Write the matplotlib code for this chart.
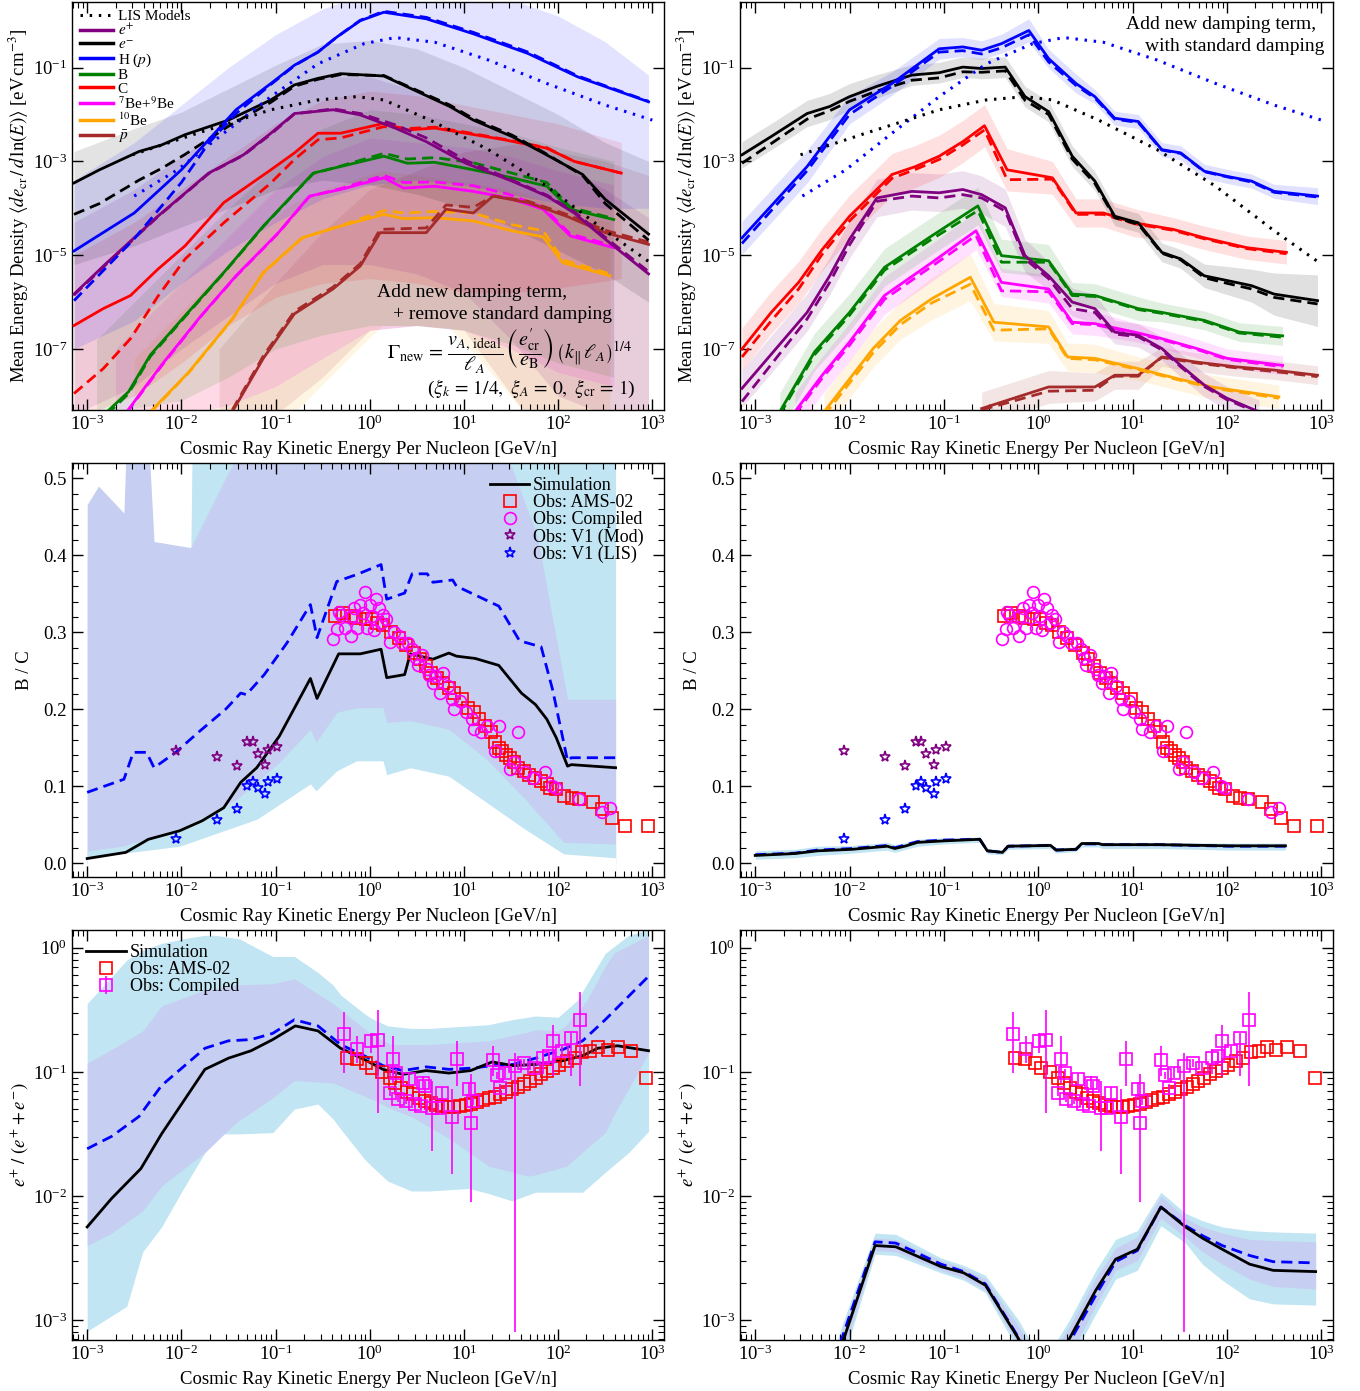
import numpy as np
import matplotlib
matplotlib.use("Agg")
import matplotlib.pyplot as plt
from matplotlib.lines import Line2D
from matplotlib.ticker import LogLocator, FixedLocator, NullLocator, MultipleLocator, NullFormatter

plt.rcParams['font.family'] = ['Liberation Serif', 'DejaVu Serif']
plt.rcParams['mathtext.fontset'] = 'stix'

# --- Data: x values are log10(E / GeV/n); values on log axes are log10 too ---

# Top-left: new damping, standard damping removed
TL_H_X = [-3.14, -2.50, -2.00, -1.71, -1.42, -1.05, -0.80, -0.55, -0.35, -0.10, 0.15, 0.60, 1.10, 1.68, 2.21, 2.96]
TL_H_Y = [-4.91, -4.10, -3.18, -2.54, -1.90, -1.34, -0.95, -0.67, -0.35, 0.00, 0.18, 0.04, -0.28, -0.70, -1.20, -1.73]
TL_H_D = [-5.97, -4.65, -3.45, -2.61, -1.98, -1.36, -0.96, -0.67, -0.35, 0.01, 0.20, 0.07, -0.25, -0.67, -1.18, -1.72]

TL_E_X = [-3.14, -2.87, -2.45, -2.21, -1.96, -1.50, -1.05, -0.80, -0.55, -0.31, 0.15, 0.44, 0.85, 1.10, 1.51, 1.84, 2.26, 2.50, 2.96]
TL_E_Y = [-3.46, -3.18, -2.79, -2.65, -2.43, -2.12, -1.69, -1.37, -1.23, -1.13, -1.18, -1.45, -1.83, -2.12, -2.47, -2.82, -3.28, -3.81, -4.55]
TL_E_D = [-4.13, -3.90, -3.40, -3.15, -2.85, -2.25, -1.74, -1.40, -1.25, -1.15, -1.17, -1.43, -1.80, -2.09, -2.44, -2.80, -3.30, -3.90, -4.68]

TL_P_X = [-3.14, -2.79, -2.25, -1.71, -1.34, -1.05, -0.80, -0.39, -0.10, 0.27, 0.60, 1.02, 1.51, 1.88, 2.17, 2.50, 2.96]
TL_P_Y = [-5.83, -5.16, -4.17, -3.25, -2.86, -2.40, -1.98, -1.90, -2.01, -2.29, -2.58, -3.04, -3.42, -3.74, -4.10, -4.66, -5.40]
TL_P_D = [-5.85, -5.18, -4.18, -3.26, -2.87, -2.42, -1.99, -1.88, -1.98, -2.22, -2.50, -2.98, -3.40, -3.72, -4.07, -4.62, -5.35]

TL_C_X = [-3.14, -2.83, -2.54, -2.25, -1.96, -1.55, -1.05, -0.80, -0.55, -0.31, 0.15, 0.40, 0.69, 1.02, 1.43, 1.88, 2.17, 2.67]
TL_C_Y = [-6.50, -6.14, -5.86, -5.30, -4.80, -3.88, -3.18, -2.82, -2.40, -2.40, -2.19, -2.33, -2.29, -2.40, -2.54, -2.72, -3.00, -3.25]
TL_C_D = [-7.95, -7.42, -6.78, -5.88, -5.08, -4.31, -3.46, -2.96, -2.54, -2.50, -2.26, -2.30, -2.27, -2.38, -2.53, -2.71, -3.00, -3.25]

TL_B_X = [-2.79, -2.56, -2.33, -1.96, -1.55, -1.13, -0.60, -0.31, 0.15, 0.40, 0.69, 1.10, 1.51, 1.88, 2.13, 2.59]
TL_B_Y = [-8.34, -7.91, -7.13, -6.29, -5.37, -4.38, -3.25, -3.11, -2.89, -3.04, -3.02, -3.18, -3.35, -3.53, -4.02, -4.24]
TL_B_D = [-8.40, -7.95, -7.16, -6.31, -5.38, -4.39, -3.26, -3.10, -2.83, -2.95, -2.92, -3.03, -3.25, -3.45, -3.98, -4.22]

TL_BE_X = [-2.58, -2.21, -1.79, -1.42, -0.97, -0.64, -0.31, 0.15, 0.36, 0.69, 1.10, 1.47, 1.84, 2.13, 2.59]
TL_BE_Y = [-8.34, -7.34, -6.29, -5.44, -4.52, -3.74, -3.60, -3.35, -3.57, -3.53, -3.64, -3.78, -4.02, -4.59, -4.84]
TL_BE_D = [-8.36, -7.36, -6.30, -5.45, -4.53, -3.75, -3.58, -3.30, -3.45, -3.44, -3.52, -3.70, -3.98, -4.55, -4.80]

TL_B10_X = [-2.33, -1.92, -1.46, -1.13, -0.72, -0.31, 0.15, 0.36, 0.69, 1.10, 1.51, 1.84, 2.05, 2.55]
TL_B10_Y = [-8.34, -7.49, -6.36, -5.37, -4.63, -4.38, -4.13, -4.22, -4.20, -4.27, -4.48, -4.61, -5.16, -5.44]
TL_B10_D = [-8.36, -7.50, -6.37, -5.38, -4.64, -4.37, -4.05, -4.10, -4.07, -4.10, -4.35, -4.48, -5.10, -5.40]

TL_PB_X = [-1.46, -1.13, -0.80, -0.39, -0.10, 0.11, 0.60, 0.81, 1.10, 1.31, 1.68, 2.09, 2.50, 2.96]
TL_PB_Y = [-8.34, -7.20, -6.25, -5.72, -5.23, -4.52, -4.52, -4.02, -4.10, -3.74, -3.88, -4.17, -4.52, -4.77]
TL_PB_D = [-8.30, -7.15, -6.20, -5.68, -5.18, -4.45, -4.42, -3.93, -3.98, -3.74, -3.85, -4.13, -4.47, -4.72]

# LIS models (same in both top panels)
LIS_P_X = [-2.50, -2.04, -1.55, -1.05, -0.55, -0.06, 0.27, 0.69, 1.26, 1.88, 2.50, 3.00]
LIS_P_Y = [-3.74, -3.18, -2.40, -1.62, -0.92, -0.49, -0.36, -0.46, -0.84, -1.34, -1.80, -2.12]
LIS_E_X = [-2.52, -1.83, -1.50, -1.05, -0.55, -0.14, 0.15, 0.64, 1.26, 1.88, 2.50, 3.00]
LIS_E_Y = [-2.86, -2.40, -2.19, -1.90, -1.69, -1.62, -1.69, -2.12, -2.75, -3.53, -4.48, -5.19]

# Top-left bands (log10 lower / upper)
TLB_X = [-3.14, -2.5, -2.0, -1.5, -1.0, -0.5, 0.0, 0.5, 1.0, 1.5, 2.0, 2.5, 2.96]
TLB_H_HI = [-3.4, -2.6, -1.8, -1.0, -0.3, 0.25, 0.6, 0.6, 0.55, 0.45, 0.1, -0.45, -1.16]
TLB_H_LO = [-7.0, -6.4, -5.6, -4.9, -4.3, -3.8, -3.5, -3.4, -3.5, -3.7, -3.9, -4.0, -4.0]
TLB_E_HI = [-2.79, -2.3, -1.95, -1.45, -0.95, -0.5, -0.42, -0.6, -1.0, -1.5, -2.0, -2.6, -3.0]
TLB_E_LO = [-5.2, -4.8, -4.4, -4.0, -3.6, -3.4, -3.5, -3.7, -4.0, -4.4, -4.9, -5.4, -6.0]
TLB_P_HI = [-4.3, -3.6, -2.9, -2.2, -1.6, -1.2, -1.2, -1.5, -2.0, -2.5, -3.0, -3.6, -4.2]
TLB_P_LO = [-8.4, -7.8, -7.0, -6.3, -5.6, -5.2, -5.2, -5.4, -5.8, -6.8, -8.0, -8.4, -8.4]
TLB_C_X = [-3.14, -2.5, -2.0, -1.5, -1.0, -0.5, 0.0, 0.5, 1.0, 1.5, 2.0, 2.67]
TLB_C_HI = [-5.0, -4.3, -3.6, -2.9, -2.2, -1.7, -1.5, -1.6, -1.8, -2.0, -2.2, -2.6]
TLB_C_LO = [-8.5, -8.0, -7.3, -6.5, -5.9, -5.6, -5.5, -5.6, -5.8, -5.8, -5.7, -5.5]
TLB_B_X = [-2.9, -2.0, -1.5, -1.0, -0.5, 0.0, 0.5, 1.0, 1.5, 2.0, 2.59]
TLB_B_HI = [-6.8, -5.0, -4.0, -3.1, -2.3, -1.9, -2.0, -2.2, -2.4, -2.7, -3.0]
TLB_B_LO = [-8.4, -8.1, -7.6, -7.0, -6.7, -6.5, -6.5, -6.6, -6.9, -7.3, -7.6]
TLB_BE_X = [-2.7, -2.0, -1.5, -1.0, -0.5, 0.0, 0.5, 1.0, 1.5, 2.0, 2.59]
TLB_BE_HI = [-7.0, -5.6, -4.6, -3.6, -2.9, -2.5, -2.6, -2.7, -2.9, -3.2, -3.5]
TLB_BE_LO = [-8.4, -8.4, -8.2, -7.8, -7.2, -6.6, -6.5, -6.6, -7.0, -7.5, -7.8]
TLB_B10_X = [-2.5, -2.0, -1.5, -1.0, -0.82, -0.5, 0.13, 0.5, 0.85, 1.2, 1.66, 2.0, 2.55]
TLB_B10_HI = [-7.2, -6.2, -5.2, -4.2, -3.9, -3.6, -3.2, -3.3, -3.4, -3.5, -3.7, -4.0, -4.3]
TLB_B10_LO = [-8.4, -8.4, -8.4, -8.4, -8.4, -7.75, -6.5, -6.5, -6.55, -7.3, -8.4, -8.4, -8.4]
TLB_PB_X = [-1.6, -1.0, -0.5, 0.0, 0.5, 1.0, 1.66, 2.0, 2.5, 2.96]
TLB_PB_HI = [-7.0, -5.6, -4.5, -3.6, -3.2, -2.8, -2.6, -2.8, -3.0, -3.3]
TLB_PB_LO = [-8.4, -8.4, -7.6, -6.6, -6.5, -6.6, -8.4, -8.4, -8.4, -8.4]

# Top-right: new damping, with standard damping (half-widths of bands in decades)
TR_H_X = [-3.14, -2.83, -2.45, -2.00, -1.55, -1.05, -0.80, -0.60, -0.39, -0.10, 0.11, 0.40, 0.60, 0.81, 1.06, 1.31, 1.51, 1.76, 2.00, 2.26, 2.50, 2.96]
TR_H_Y = [-4.63, -3.95, -3.11, -1.90, -1.34, -0.60, -0.56, -0.63, -0.49, -0.21, -0.81, -1.34, -1.62, -2.08, -2.15, -2.75, -2.82, -3.21, -3.32, -3.42, -3.64, -3.74]
TR_H_D = [-4.75, -4.05, -3.20, -2.00, -1.40, -0.67, -0.64, -0.71, -0.58, -0.30, -0.88, -1.38, -1.65, -2.10, -2.17, -2.76, -2.83, -3.22, -3.33, -3.44, -3.66, -3.76]
TR_H_W = [0.35, 0.35, 0.35, 0.30, 0.25, 0.22, 0.2, 0.2, 0.2, 0.25, 0.2, 0.2, 0.15, 0.15, 0.15, 0.15, 0.15, 0.15, 0.15, 0.15, 0.15, 0.18]

TR_E_X = [-3.14, -2.83, -2.45, -2.21, -2.00, -1.71, -1.34, -1.05, -0.80, -0.60, -0.35, -0.14, 0.11, 0.36, 0.60, 0.81, 1.06, 1.31, 1.51, 1.76, 2.00, 2.26, 2.50, 2.96]
TR_E_Y = [-2.86, -2.47, -1.98, -1.83, -1.62, -1.40, -1.16, -1.11, -0.99, -1.02, -0.99, -1.62, -1.94, -2.89, -3.42, -4.17, -4.31, -4.94, -5.08, -5.44, -5.54, -5.65, -5.83, -5.97]
TR_E_D = [-3.04, -2.62, -2.10, -1.92, -1.72, -1.50, -1.27, -1.22, -1.09, -1.10, -1.07, -1.70, -2.00, -2.95, -3.47, -4.20, -4.34, -4.96, -5.10, -5.48, -5.60, -5.72, -5.90, -6.04]
TR_E_W = [0.28, 0.28, 0.28, 0.28, 0.28, 0.25, 0.22, 0.22, 0.22, 0.22, 0.22, 0.22, 0.22, 0.22, 0.2, 0.2, 0.2, 0.2, 0.2, 0.25, 0.3, 0.35, 0.45, 0.55]

TR_C_X = [-3.14, -2.83, -2.54, -2.29, -2.00, -1.55, -1.30, -1.05, -0.80, -0.57, -0.33, 0.15, 0.40, 0.69, 1.02, 1.43, 1.76, 2.21, 2.63]
TR_C_Y = [-7.00, -6.22, -5.58, -4.88, -4.17, -3.28, -3.11, -2.89, -2.58, -2.24, -3.18, -3.35, -4.10, -4.10, -4.31, -4.45, -4.63, -4.84, -4.94]
TR_C_D = [-7.17, -6.40, -5.72, -4.98, -4.27, -3.36, -3.17, -2.96, -2.65, -2.33, -3.39, -3.38, -4.13, -4.13, -4.33, -4.47, -4.65, -4.86, -4.97]
TR_C_W = [0.45, 0.45, 0.45, 0.45, 0.45, 0.45, 0.45, 0.45, 0.45, 0.45, 0.45, 0.35, 0.3, 0.3, 0.3, 0.25, 0.25, 0.25, 0.25]

TR_P_X = [-3.14, -2.45, -2.21, -2.00, -1.71, -1.34, -1.05, -0.80, -0.60, -0.35, -0.14, 0.11, 0.36, 0.60, 0.81, 1.06, 1.31, 1.51, 1.76, 2.00, 2.34]
TR_P_Y = [-7.84, -6.22, -5.44, -4.66, -3.78, -3.64, -3.67, -3.60, -3.71, -3.99, -5.01, -5.44, -6.00, -6.14, -6.64, -6.71, -6.99, -7.35, -7.77, -8.05, -8.34]
TR_P_D = [-8.12, -6.36, -5.58, -4.78, -3.85, -3.74, -3.78, -3.71, -3.78, -4.06, -5.08, -5.50, -6.14, -6.22, -6.68, -6.74, -7.02, -7.38, -7.80, -8.08, -8.37]
TR_P_W = [0.4, 0.4, 0.4, 0.4, 0.4, 0.4, 0.4, 0.4, 0.4, 0.4, 0.35, 0.3, 0.3, 0.3, 0.25, 0.25, 0.25, 0.25, 0.25, 0.25, 0.25]

TR_B_X = [-2.74, -2.37, -2.00, -1.63, -1.13, -0.64, -0.39, 0.11, 0.36, 0.60, 1.06, 1.31, 1.76, 2.13, 2.59]
TR_B_Y = [-8.34, -7.06, -6.22, -5.26, -4.59, -3.95, -5.01, -5.12, -5.83, -5.86, -6.14, -6.22, -6.39, -6.64, -6.72]
TR_B_D = [-8.40, -7.12, -6.28, -5.32, -4.66, -4.05, -5.15, -5.15, -5.86, -5.88, -6.16, -6.24, -6.41, -6.66, -6.75]
TR_B_W = [0.4, 0.4, 0.4, 0.4, 0.4, 0.4, 0.35, 0.35, 0.25, 0.25, 0.25, 0.2, 0.2, 0.2, 0.2]

TR_BE_X = [-2.58, -2.29, -2.00, -1.63, -1.13, -0.66, -0.39, 0.11, 0.36, 0.60, 1.02, 1.31, 1.68, 2.00, 2.59]
TR_BE_Y = [-8.34, -7.56, -6.85, -5.86, -5.16, -4.48, -5.58, -5.72, -6.43, -6.46, -6.64, -6.78, -6.99, -7.20, -7.35]
TR_BE_D = [-8.40, -7.62, -6.92, -5.94, -5.24, -4.58, -5.76, -5.78, -6.46, -6.48, -6.66, -6.80, -7.01, -7.22, -7.38]
TR_BE_W = [0.4, 0.4, 0.4, 0.4, 0.4, 0.4, 0.3, 0.3, 0.25, 0.25, 0.2, 0.2, 0.2, 0.2, 0.2]

TR_B10_X = [-2.27, -1.75, -1.46, -1.13, -0.72, -0.47, 0.11, 0.31, 0.60, 1.06, 1.47, 1.84, 2.55]
TR_B10_Y = [-8.34, -6.99, -6.39, -5.93, -5.47, -6.43, -6.53, -7.17, -7.20, -7.42, -7.63, -7.81, -8.02]
TR_B10_D = [-8.42, -7.08, -6.48, -6.02, -5.62, -6.60, -6.57, -7.20, -7.23, -7.44, -7.65, -7.83, -8.05]
TR_B10_W = [0.4, 0.4, 0.4, 0.45, 0.5, 0.4, 0.35, 0.3, 0.3, 0.25, 0.25, 0.25, 0.25]

TR_PB_X = [-0.60, 0.11, 0.60, 0.81, 1.06, 1.31, 1.68, 2.09, 2.50, 2.96]
TR_PB_Y = [-8.27, -7.81, -7.81, -7.56, -7.56, -7.17, -7.28, -7.38, -7.45, -7.56]
TR_PB_D = [-8.30, -7.90, -7.88, -7.58, -7.58, -7.18, -7.30, -7.40, -7.48, -7.59]
TR_PB_W = [0.35, 0.35, 0.3, 0.3, 0.3, 0.2, 0.2, 0.2, 0.2, 0.2]

# Middle: B/C ratio
ML_X = [-3.00, -2.59, -2.35, -2.02, -1.78, -1.55, -1.37, -1.20, -0.96, -0.63, -0.56, -0.33, -0.10, 0.12, 0.18, 0.37, 0.43, 0.67, 0.84, 0.92, 1.12, 1.37, 1.61, 1.76, 1.88, 1.98, 2.10, 2.14, 2.61]
ML_SIM = [0.006, 0.014, 0.031, 0.042, 0.055, 0.072, 0.105, 0.124, 0.165, 0.240, 0.214, 0.272, 0.272, 0.278, 0.241, 0.245, 0.272, 0.265, 0.273, 0.269, 0.266, 0.257, 0.221, 0.206, 0.187, 0.163, 0.126, 0.128, 0.124]
ML_DX = [-3.00, -2.61, -2.51, -2.37, -2.29, -2.06, -1.82, -1.53, -1.37, -1.31, -1.12, -0.88, -0.63, -0.56, -0.35, -0.14, 0.12, 0.18, 0.37, 0.45, 0.61, 0.67, 0.88, 0.92, 1.37, 1.59, 1.82, 1.94, 2.10, 2.14, 2.61]
ML_DASH = [0.092, 0.109, 0.144, 0.144, 0.124, 0.144, 0.170, 0.200, 0.221, 0.219, 0.245, 0.286, 0.336, 0.293, 0.366, 0.375, 0.388, 0.343, 0.351, 0.376, 0.376, 0.365, 0.368, 0.360, 0.334, 0.289, 0.281, 0.226, 0.133, 0.137, 0.137]
ML_CY_X = [-3.00, -1.90, -1.88, 2.61]
ML_CY_HI = [0.40, 0.40, 0.60, 0.60]
ML_CY_LX = [-3.00, -2.02, -1.20, -0.63, -0.57, -0.35, -0.14, 0.14, 0.18, 0.43, 0.84, 1.24, 1.65, 2.06, 2.61]
ML_CY_LO = [0.007, 0.022, 0.057, 0.103, 0.094, 0.120, 0.133, 0.133, 0.115, 0.124, 0.113, 0.079, 0.044, 0.012, 0.007]
ML_LV_X = [-3.00, -2.88, -2.61, -2.57, -2.37, -2.29, -1.90, -1.45, -1.30, 1.30, 1.49, 1.78, 2.10, 2.61]
ML_LV_HI = [0.466, 0.490, 0.455, 0.60, 0.60, 0.418, 0.410, 0.520, 0.60, 0.60, 0.520, 0.425, 0.213, 0.213]
ML_LV_LX = [-3.00, -2.63, -2.02, -1.41, -0.96, -0.63, -0.57, -0.35, -0.14, 0.14, 0.18, 0.43, 0.84, 1.24, 1.65, 2.06, 2.61]
ML_LV_LO = [0.016, 0.022, 0.044, 0.083, 0.131, 0.174, 0.157, 0.196, 0.202, 0.202, 0.183, 0.185, 0.174, 0.135, 0.083, 0.027, 0.025]

MR_X = [-3.00, -2.58, -2.34, -1.97, -1.60, -1.52, -1.40, -1.28, -0.99, -0.62, -0.54, -0.38, -0.32, 0.13, 0.19, 0.40, 0.46, 0.64, 0.68, 1.29, 2.02, 2.62]
MR_SIM = [0.010, 0.0125, 0.016, 0.018, 0.022, 0.019, 0.0225, 0.027, 0.029, 0.031, 0.016, 0.014, 0.022, 0.023, 0.017, 0.018, 0.0255, 0.0255, 0.024, 0.024, 0.0225, 0.0225]
MR_DASH = [0.011, 0.013, 0.017, 0.019, 0.023, 0.020, 0.024, 0.028, 0.030, 0.031, 0.016, 0.014, 0.022, 0.023, 0.017, 0.018, 0.025, 0.025, 0.024, 0.024, 0.022, 0.022]
MR_HI = [0.016, 0.018, 0.022, 0.023, 0.027, 0.024, 0.027, 0.031, 0.033, 0.034, 0.019, 0.017, 0.025, 0.026, 0.020, 0.021, 0.028, 0.028, 0.027, 0.027, 0.026, 0.026]
MR_LO = [0.005, 0.007, 0.010, 0.013, 0.017, 0.014, 0.018, 0.022, 0.025, 0.027, 0.012, 0.011, 0.018, 0.019, 0.013, 0.015, 0.021, 0.021, 0.019, 0.019, 0.017, 0.017]

BC_AMS_X = [-0.367, -0.286, -0.204, -0.143, -0.041, 0.020, 0.082, 0.143, 0.224, 0.306, 0.388, 0.469, 0.531, 0.592, 0.653, 0.714, 0.776, 0.837, 0.898, 0.980, 1.041, 1.102, 1.163, 1.224, 1.286, 1.327, 1.367, 1.408, 1.449, 1.490, 1.531, 1.571, 1.633, 1.694, 1.755, 1.816, 1.878, 1.918, 1.980, 2.061, 2.143, 2.224, 2.367, 2.469, 2.571, 2.714, 2.959]
BC_AMS_Y = [0.321, 0.325, 0.321, 0.319, 0.317, 0.317, 0.312, 0.310, 0.301, 0.293, 0.284, 0.273, 0.265, 0.256, 0.247, 0.241, 0.234, 0.228, 0.221, 0.213, 0.202, 0.196, 0.187, 0.178, 0.170, 0.157, 0.150, 0.146, 0.141, 0.137, 0.131, 0.124, 0.120, 0.115, 0.111, 0.107, 0.103, 0.098, 0.096, 0.087, 0.085, 0.083, 0.079, 0.070, 0.059, 0.048, 0.048]
BC_CMP_X = [-0.388, -0.347, -0.327, -0.306, -0.265, -0.204, -0.192, -0.163, -0.135, -0.102, -0.069, -0.053, -0.029, 0.000, 0.020, 0.041, 0.061, 0.094, 0.122, 0.143, 0.176, 0.216, 0.257, 0.306, 0.347, 0.408, 0.449, 0.490, 0.510, 0.551, 0.612, 0.633, 0.673, 0.694, 0.747, 0.776, 0.829, 0.878, 0.898, 0.959, 1.020, 1.082, 1.102, 1.184, 1.245, 1.327, 1.367, 1.490, 1.531, 1.571, 1.653, 1.735, 1.857, 1.939, 1.980, 2.224, 2.469, 2.551]
BC_CMP_Y = [0.291, 0.304, 0.327, 0.323, 0.306, 0.295, 0.321, 0.332, 0.306, 0.336, 0.325, 0.353, 0.306, 0.336, 0.321, 0.303, 0.343, 0.332, 0.312, 0.323, 0.317, 0.288, 0.301, 0.295, 0.286, 0.286, 0.278, 0.267, 0.258, 0.271, 0.252, 0.245, 0.234, 0.243, 0.221, 0.247, 0.230, 0.213, 0.200, 0.211, 0.196, 0.187, 0.174, 0.170, 0.178, 0.146, 0.178, 0.122, 0.131, 0.170, 0.118, 0.111, 0.118, 0.100, 0.098, 0.083, 0.066, 0.072]
V1_X = [-2.06, -1.62, -1.41, -1.30, -1.24, -1.19, -1.11, -1.08, -0.98]
V1_MOD = [0.146, 0.138, 0.126, 0.157, 0.157, 0.142, 0.128, 0.147, 0.151]
V1_LIS = [0.032, 0.056, 0.070, 0.100, 0.105, 0.098, 0.090, 0.105, 0.110]

# Bottom: positron fraction
BL_X = [-3.00, -2.74, -2.43, -2.21, -1.75, -1.50, -1.26, -1.03, -0.79, -0.55, -0.31, -0.06, 0.14, 0.35, 0.60, 0.84, 1.07, 1.30, 1.52, 1.76, 2.05, 2.26, 2.42, 2.63, 2.96]
BL_SIM = [-2.25, -2.02, -1.78, -1.50, -0.98, -0.89, -0.83, -0.74, -0.63, -0.67, -0.81, -0.90, -0.98, -1.02, -0.99, -1.01, -0.99, -0.92, -0.95, -0.94, -0.91, -0.87, -0.81, -0.79, -0.83]
BL_DX = [-3.00, -2.74, -2.45, -2.21, -1.75, -1.50, -1.26, -1.03, -0.80, -0.55, -0.31, -0.06, 0.14, 0.35, 0.60, 0.84, 1.09, 1.30, 1.52, 1.76, 2.05, 2.26, 2.50, 2.75, 2.96]
BL_DASH = [-1.62, -1.52, -1.36, -1.11, -0.81, -0.75, -0.74, -0.69, -0.58, -0.63, -0.78, -0.87, -0.95, -0.99, -0.96, -0.98, -0.97, -0.95, -0.94, -0.89, -0.82, -0.75, -0.58, -0.39, -0.23]
BL_CY_X = [-3.00, -2.58, -2.41, -2.21, -2.00, -1.75, -1.63, -1.42, -1.38, -1.03, -0.80, -0.55, -0.39, -0.31, -0.06, 0.02, 0.19, 0.44, 0.64, 1.05, 1.26, 1.51, 1.76, 2.00, 2.21, 2.26, 2.50, 2.75, 2.96]
BL_CY_HI = [-0.45, -0.10, -0.02, 0.035, 0.07, 0.10, 0.10, 0.075, 0.07, -0.07, -0.07, -0.20, -0.30, -0.38, -0.53, -0.57, -0.63, -0.65, -0.65, -0.63, -0.62, -0.58, -0.55, -0.56, -0.42, -0.35, -0.045, 0.10, 0.15]
BL_CY_LO = [-3.09, -2.89, -2.45, -2.25, -1.97, -1.65, -1.50, -1.50, -1.50, -1.49, -1.30, -1.26, -1.38, -1.46, -1.70, -1.76, -1.88, -1.96, -1.96, -1.94, -1.98, -2.04, -1.97, -1.97, -1.97, -1.97, -1.81, -1.65, -1.48]
BL_LV_X = [-3.00, -2.74, -2.41, -2.21, -1.75, -1.42, -1.03, -0.80, -0.39, 0.02, 0.23, 0.44, 0.64, 0.85, 1.26, 1.68, 1.76, 2.00, 2.09, 2.30, 2.50, 2.59, 2.96]
BL_LV_HI = [-0.93, -0.82, -0.67, -0.47, -0.34, -0.30, -0.29, -0.25, -0.45, -0.70, -0.78, -0.78, -0.78, -0.77, -0.75, -0.68, -0.66, -0.67, -0.62, -0.43, -0.15, -0.045, 0.10]
BL_LV_LO = [-2.40, -2.30, -2.12, -1.92, -1.65, -1.41, -1.21, -1.07, -1.09, -1.22, -1.30, -1.36, -1.45, -1.54, -1.76, -1.84, -1.83, -1.78, -1.76, -1.62, -1.49, -1.35, -0.85]

BR_X = [-2.30, -2.06, -1.73, -1.51, -1.03, -0.79, -0.56, -0.21, 0.05, 0.33, 0.61, 0.82, 1.05, 1.30, 1.56, 1.74, 1.95, 2.24, 2.49, 2.94]
BR_SIM = [-3.70, -3.15, -2.40, -2.41, -2.57, -2.62, -2.72, -3.15, -3.50, -3.15, -2.76, -2.51, -2.43, -2.09, -2.25, -2.34, -2.43, -2.55, -2.60, -2.61]
BR_DASH = [-3.65, -3.10, -2.37, -2.38, -2.55, -2.61, -2.71, -3.14, -3.50, -3.18, -2.80, -2.53, -2.44, -2.09, -2.24, -2.32, -2.40, -2.48, -2.53, -2.54]
BR_CY_HI = [-3.55, -3.00, -2.30, -2.31, -2.50, -2.56, -2.64, -3.00, -3.35, -3.00, -2.60, -2.35, -2.28, -1.97, -2.14, -2.20, -2.25, -2.28, -2.29, -2.30]
BR_CY_LO = [-3.85, -3.30, -2.47, -2.48, -2.62, -2.68, -2.78, -3.25, -3.60, -3.35, -2.95, -2.67, -2.60, -2.24, -2.38, -2.55, -2.68, -2.83, -2.87, -2.88]
BR_LV_HI = [-3.60, -3.05, -2.34, -2.35, -2.52, -2.58, -2.67, -3.05, -3.40, -3.05, -2.66, -2.42, -2.33, -2.00, -2.18, -2.25, -2.30, -2.35, -2.36, -2.37]
BR_LV_LO = [-3.80, -3.25, -2.44, -2.45, -2.60, -2.66, -2.76, -3.20, -3.55, -3.30, -2.88, -2.60, -2.52, -2.18, -2.33, -2.45, -2.55, -2.67, -2.73, -2.75]

PF_AMS_X = [-0.244, -0.140, -0.037, 0.025, 0.128, 0.211, 0.273, 0.335, 0.397, 0.459, 0.521, 0.583, 0.645, 0.707, 0.769, 0.831, 0.893, 0.955, 1.017, 1.079, 1.140, 1.202, 1.264, 1.326, 1.388, 1.450, 1.512, 1.574, 1.636, 1.698, 1.760, 1.822, 1.884, 1.946, 2.008, 2.091, 2.174, 2.256, 2.339, 2.421, 2.525, 2.636, 2.773, 2.938]
PF_AMS_Y = [-0.888, -0.896, -0.928, -0.968, -1.003, -1.048, -1.088, -1.128, -1.163, -1.182, -1.209, -1.235, -1.254, -1.267, -1.275, -1.281, -1.281, -1.275, -1.267, -1.257, -1.243, -1.227, -1.214, -1.201, -1.182, -1.160, -1.142, -1.120, -1.099, -1.075, -1.048, -1.021, -0.995, -0.968, -0.941, -0.914, -0.888, -0.842, -0.834, -0.799, -0.826, -0.802, -0.834, -1.053]
PF_CMP_X = [-0.273, -0.132, 0.012, 0.087, 0.244, 0.281, 0.211, 0.298, 0.384, 0.417, 0.479, 0.562, 0.583, 0.541, 0.665, 0.769, 0.727, 0.872, 0.926, 1.058, 1.079, 1.099, 1.306, 1.347, 1.388, 1.438, 1.545, 1.636, 1.740, 1.843, 1.905, 1.946, 2.041, 2.140, 2.236]
PF_CMP_Y = [-0.695, -0.816, -0.754, -0.741, -0.896, -1.008, -1.168, -1.217, -1.235, -1.061, -1.262, -1.088, -1.115, -1.275, -1.289, -1.174, -1.289, -1.361, -0.896, -1.142, -1.414, -1.235, -0.906, -1.029, -1.134, -1.008, -0.955, -0.928, -0.968, -0.888, -0.874, -0.754, -0.829, -0.727, -0.586]
PF_CMP_LO = [-1.008, -0.928, -0.848, -1.329, -1.088, -1.040, -1.195, -1.245, -1.260, -1.115, -1.290, -1.140, -1.160, -1.300, -1.636, -1.230, -1.320, -1.824, -1.115, -1.200, -2.051, -1.270, -1.035, -1.060, -1.170, -1.050, -3.094, -0.960, -1.010, -1.020, -0.910, -1.035, -0.870, -1.035, -1.115]
PF_CMP_HI = [-0.521, -0.714, -0.687, -0.500, -0.714, -0.975, -1.140, -1.190, -1.210, -1.010, -1.235, -1.030, -1.070, -1.250, -1.075, -1.120, -1.260, -1.142, -0.754, -1.080, -1.021, -1.200, -0.794, -1.000, -1.100, -0.960, -0.848, -0.900, -0.930, -0.820, -0.840, -0.620, -0.790, -0.687, -0.353]


def P(a):
    return 10.0 ** np.asarray(a, dtype=float)


XLABEL = 'Cosmic Ray Kinetic Energy Per Nucleon [GeV/n]'
FS = 13.5
XMAJ = [1e-3, 1e-2, 1e-1, 1e0, 1e1, 1e2, 1e3]


def style_x(ax):
    ax.set_xscale('log')
    ax.set_xlim(6.9e-4, 1.33e3)
    ax.xaxis.set_major_locator(FixedLocator(XMAJ))
    ax.xaxis.set_minor_locator(LogLocator(base=10, subs=np.arange(2, 10), numticks=20))
    ax.xaxis.set_minor_formatter(NullFormatter())
    ax.tick_params(which='both', direction='in', top=True, right=True, labelsize=FS)
    ax.tick_params(which='major', length=8, width=1.0)
    ax.tick_params(which='minor', length=4, width=0.8)
    ax.set_xlabel(XLABEL, fontsize=FS, labelpad=5)
    for s in ax.spines.values():
        s.set_linewidth(1.0)


W_ = 1360.0
H_ = 1391.0
fig = plt.figure(figsize=(13.6, 13.91), dpi=100)

def rect(x0, y0, x1, y1):
    return [x0 / W_, 1 - y1 / H_, (x1 - x0) / W_, (y1 - y0) / H_]

ax_tl = fig.add_axes(rect(72, 2, 664, 410))
ax_tr = fig.add_axes(rect(740, 2, 1333, 410))
ax_ml = fig.add_axes(rect(72, 463, 664, 877))
ax_mr = fig.add_axes(rect(740, 463, 1333, 877))
ax_bl = fig.add_axes(rect(72, 930, 664, 1340))
ax_br = fig.add_axes(rect(740, 930, 1333, 1340))

LW = 2.0
DASH = (0, (4, 2.2))
DOT = (0, (0.8, 2.2))
COL = {'P': 'purple', 'E': 'black', 'H': 'blue', 'B': 'green', 'C': 'red',
       'BE': 'magenta', 'B10': 'orange', 'PB': 'brown'}

# ---- Top-left ----
ax = ax_tl
bands_tl = [
    (TLB_B10_X, TLB_B10_LO, TLB_B10_HI, 'B10'),
    (TLB_BE_X, TLB_BE_LO, TLB_BE_HI, 'BE'),
    (TLB_PB_X, TLB_PB_LO, TLB_PB_HI, 'PB'),
    (TLB_B_X, TLB_B_LO, TLB_B_HI, 'B'),
    (TLB_C_X, TLB_C_LO, TLB_C_HI, 'C'),
    (TLB_X, TLB_P_LO, TLB_P_HI, 'P'),
    (TLB_X, TLB_E_LO, TLB_E_HI, 'E'),
    (TLB_X, TLB_H_LO, TLB_H_HI, 'H'),
]
for bx, lo, hi, k in bands_tl:
    ax.fill_between(P(bx), P(lo), P(hi), color=COL[k], alpha=0.11, lw=0, zorder=1)

lines_tl = [
    (TL_B10_X, TL_B10_Y, TL_B10_D, 'B10'),
    (TL_BE_X, TL_BE_Y, TL_BE_D, 'BE'),
    (TL_PB_X, TL_PB_Y, TL_PB_D, 'PB'),
    (TL_B_X, TL_B_Y, TL_B_D, 'B'),
    (TL_C_X, TL_C_Y, TL_C_D, 'C'),
    (TL_P_X, TL_P_Y, TL_P_D, 'P'),
    (TL_E_X, TL_E_Y, TL_E_D, 'E'),
    (TL_H_X, TL_H_Y, TL_H_D, 'H'),
]
for xs, ys, ds, k in lines_tl:
    ax.plot(P(xs), P(ys), color=COL[k], lw=LW, zorder=3)
    ax.plot(P(xs), P(ds), color=COL[k], lw=LW, ls=DASH, zorder=3)
ax.plot(P(LIS_P_X), P(LIS_P_Y), color='blue', lw=2.2, ls=DOT, zorder=3)
ax.plot(P(LIS_E_X), P(LIS_E_Y), color='black', lw=2.2, ls=DOT, zorder=3)

# ---- Top-right ----
ax = ax_tr
lines_tr = [
    (TR_PB_X, TR_PB_Y, TR_PB_D, TR_PB_W, 'PB'),
    (TR_B10_X, TR_B10_Y, TR_B10_D, TR_B10_W, 'B10'),
    (TR_BE_X, TR_BE_Y, TR_BE_D, TR_BE_W, 'BE'),
    (TR_B_X, TR_B_Y, TR_B_D, TR_B_W, 'B'),
    (TR_P_X, TR_P_Y, TR_P_D, TR_P_W, 'P'),
    (TR_C_X, TR_C_Y, TR_C_D, TR_C_W, 'C'),
    (TR_E_X, TR_E_Y, TR_E_D, TR_E_W, 'E'),
    (TR_H_X, TR_H_Y, TR_H_D, TR_H_W, 'H'),
]
for xs, ys, ds, ws, k in lines_tr:
    y = np.asarray(ys)
    w = np.asarray(ws)
    ax.fill_between(P(xs), P(y - w), P(y + w), color=COL[k], alpha=0.12, lw=0, zorder=1)
for xs, ys, ds, ws, k in lines_tr:
    ax.plot(P(xs), P(ys), color=COL[k], lw=LW, zorder=3)
    ax.plot(P(xs), P(ds), color=COL[k], lw=LW, ls=DASH, zorder=3)
ax.plot(P(LIS_P_X), P(LIS_P_Y), color='blue', lw=2.2, ls=DOT, zorder=3)
ax.plot(P(LIS_E_X), P(LIS_E_Y), color='black', lw=2.2, ls=DOT, zorder=3)

ylab_top = r'Mean Energy Density $\langle de_{\rm cr}\,/\,d\,\ln(E)\rangle$ [eV$\,$cm$^{-3}$]'
for ax in (ax_tl, ax_tr):
    style_x(ax)
    ax.set_yscale('log')
    ax.set_ylim(5e-9, 2.5)
    ax.yaxis.set_major_locator(FixedLocator([1e-7, 1e-5, 1e-3, 1e-1]))
    ax.yaxis.set_minor_locator(NullLocator())
    ax.set_ylabel(ylab_top, fontsize=FS, labelpad=1)

handles = [Line2D([], [], color='black', lw=2.2, ls=DOT)]
labels = ['LIS Models']
names = [('P', r'$e^{+}$'), ('E', r'$e^{-}$'), ('H', r'H ($p$)'), ('B', 'B'), ('C', 'C'),
         ('BE', r'$^{7}$Be+$^{9}$Be'), ('B10', r'$^{10}$Be'), ('PB', r'$\bar{p}$')]
for k, lab in names:
    handles.append(Line2D([], [], color=COL[k], lw=LW + 0.5))
    labels.append(lab)
ax_tl.legend(handles, labels, loc='upper left', frameon=False, fontsize=11,
             handlelength=2.2, labelspacing=-0.02, handletextpad=0.3,
             borderaxespad=0.3, borderpad=0.2)

ax_tl.text(0.515, 0.287, 'Add new damping term,', transform=ax_tl.transAxes,
           fontsize=14, ha='left', va='center')
ax_tl.text(0.542, 0.233, '+ remove standard damping', transform=ax_tl.transAxes,
           fontsize=14, ha='left', va='center')
ax_tl.text(0.532, 0.143,
           r'$\Gamma_{\rm new}\,=\,\dfrac{v_{A,\,{\rm ideal}}}{\ell_A}\,\left(\dfrac{e^{\prime}_{\rm cr}}{e_{\rm B}}\right)\,\left(k_{\|}\,\ell_A\right)^{1/4}$',
           transform=ax_tl.transAxes, fontsize=14.5, ha='left', va='center')
ax_tl.text(0.600, 0.052, r'($\xi_k\,=\,1/4,\ \xi_A\,=\,0,\ \xi_{\rm cr}\,=\,1$)',
           transform=ax_tl.transAxes, fontsize=14, ha='left', va='center')

ax_tr.text(0.972, 0.946, 'Add new damping term,', transform=ax_tr.transAxes,
           fontsize=14, ha='right', va='center')
ax_tr.text(0.985, 0.892, 'with standard damping', transform=ax_tr.transAxes,
           fontsize=14, ha='right', va='center')

# ---- Middle row: B/C ----
CYAN = '#c1e5f2'
LAV = '#c6cff1'

ax = ax_ml
ax.fill_between(P(ML_CY_X), 0, ML_CY_HI, color=CYAN, lw=0, zorder=0.5)
ax.fill_between(P(ML_LV_X), 0, ML_LV_HI, color=LAV, lw=0, zorder=0.7)
ax.fill_between(P(ML_LV_LX), -0.05, ML_LV_LO, color=CYAN, lw=0, zorder=0.8)
ax.fill_between(P(ML_CY_LX), -0.05, ML_CY_LO, color='white', lw=0, zorder=0.9)
ax.plot(P(ML_DX), ML_DASH, color='blue', lw=LW, ls=DASH, zorder=3)
ax.plot(P(ML_X), ML_SIM, color='black', lw=LW, zorder=3, label='Simulation')

ax = ax_mr
ax.fill_between(P(MR_X), MR_LO, MR_HI, color=CYAN, lw=0, zorder=1)
ax.plot(P(MR_X), MR_DASH, color='blue', lw=LW, ls=DASH, zorder=3)
ax.plot(P(MR_X), MR_SIM, color='black', lw=LW, zorder=3, label='Simulation')

for ax in (ax_ml, ax_mr):
    ax.plot(P(BC_AMS_X), BC_AMS_Y, ls='none', marker='s', ms=8, mfc='none', mec='red',
            mew=1.2, zorder=4, label='Obs: AMS-02')
    ax.plot(P(BC_CMP_X), BC_CMP_Y, ls='none', marker='o', ms=8.5, mfc='none', mec='magenta',
            mew=1.2, zorder=4, label='Obs: Compiled')
    ax.plot(P(V1_X), V1_MOD, ls='none', marker='*', ms=8, mfc='none', mec='purple',
            mew=1.2, zorder=4, label='Obs: V1 (Mod)')
    ax.plot(P(V1_X), V1_LIS, ls='none', marker='*', ms=8, mfc='none', mec='blue',
            mew=1.2, zorder=4, label='Obs: V1 (LIS)')
    style_x(ax)
    ax.set_ylim(-0.018, 0.52)
    ax.yaxis.set_major_locator(MultipleLocator(0.1))
    ax.yaxis.set_minor_locator(MultipleLocator(0.02))
    ax.yaxis.set_minor_formatter(NullFormatter())
    ax.set_ylabel('B / C', fontsize=FS, labelpad=8)

ax_ml.legend(loc='upper right', frameon=False, fontsize=13, handlelength=2.2,
             labelspacing=0.0, handletextpad=0.2, borderaxespad=0.5, borderpad=0.3,
             bbox_to_anchor=(0.99, 1.0))

# ---- Bottom row: positron fraction ----
ax = ax_bl
ax.fill_between(P(BL_CY_X), P(BL_CY_LO), P(BL_CY_HI), color=CYAN, lw=0, zorder=0.5)
ax.fill_between(P(BL_LV_X), P(BL_LV_LO), P(BL_LV_HI), color=LAV, lw=0, zorder=0.7)
ax.plot(P(BL_DX), P(BL_DASH), color='blue', lw=LW, ls=DASH, zorder=3)
ax.plot(P(BL_X), P(BL_SIM), color='black', lw=LW, zorder=3, label='Simulation')

ax = ax_br
ax.fill_between(P(BR_X), P(BR_CY_LO), P(BR_CY_HI), color=CYAN, lw=0, zorder=0.5)
ax.fill_between(P(BR_X), P(BR_LV_LO), P(BR_LV_HI), color=LAV, lw=0, zorder=0.7)
ax.plot(P(BR_X), P(BR_DASH), color='blue', lw=LW, ls=DASH, zorder=3)
ax.plot(P(BR_X), P(BR_SIM), color='black', lw=LW, zorder=3, label='Simulation')

cy = P(PF_CMP_Y)
cerr = [cy - P(PF_CMP_LO), P(PF_CMP_HI) - cy]
for ax in (ax_bl, ax_br):
    ax.plot(P(PF_AMS_X), P(PF_AMS_Y), ls='none', marker='s', ms=8, mfc='none', mec='red',
            mew=1.2, zorder=4, label='Obs: AMS-02')
    ax.errorbar(P(PF_CMP_X), cy, yerr=cerr, fmt='s', ms=8, mfc='none', mec='magenta',
                mew=1.2, ecolor='magenta', elinewidth=1.2, capsize=0, zorder=4,
                label='Obs: Compiled')
    style_x(ax)
    ax.set_yscale('log')
    ax.set_ylim(6.9e-4, 1.39)
    ax.yaxis.set_major_locator(FixedLocator([1e-3, 1e-2, 1e-1, 1e0]))
    ax.yaxis.set_minor_locator(LogLocator(base=10, subs=np.arange(2, 10), numticks=20))
    ax.yaxis.set_minor_formatter(NullFormatter())
    ax.set_ylabel(r'$e^{+}\ /\ (e^{+} + e^{-})$', fontsize=FS, labelpad=1)

ax_bl.legend(loc='upper left', frameon=False, fontsize=13, handlelength=2.2,
             labelspacing=0.0, handletextpad=0.2, borderaxespad=0.5, borderpad=0.3)

fig.savefig('out.png', dpi=100)
